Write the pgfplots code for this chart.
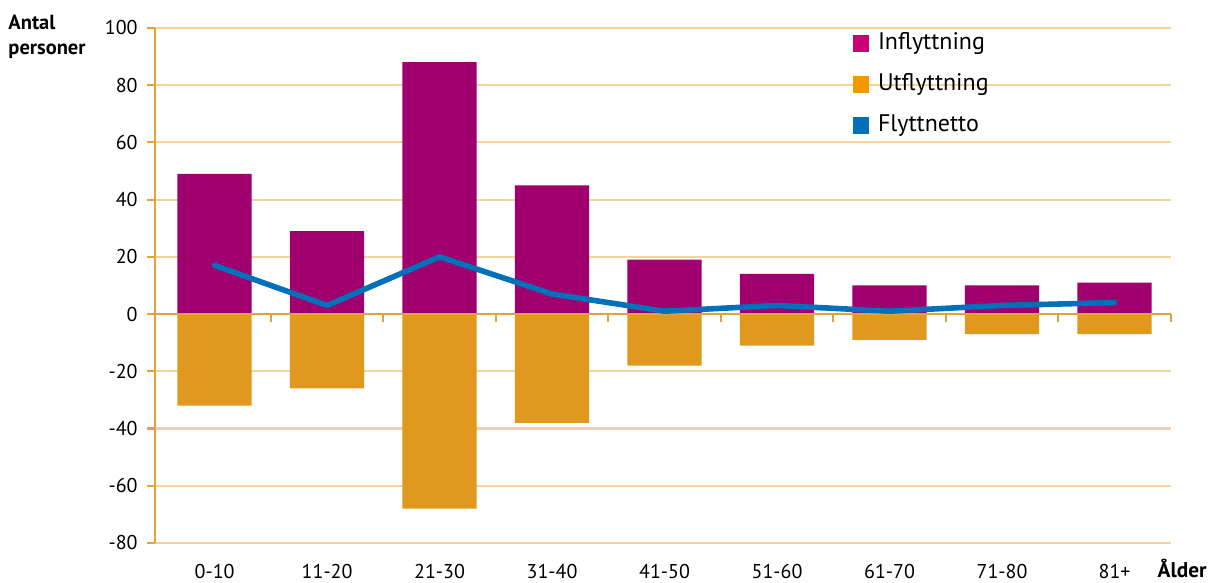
\documentclass[border=0pt]{standalone}
\usepackage{fontspec}
\setmainfont{PT Sans}
\usepackage{pgfplots}
\pgfplotsset{compat=1.18}
\definecolor{infl}{HTML}{A0006E}
\definecolor{infllg}{HTML}{CC0077}
\definecolor{utfl}{HTML}{E0981E}
\definecolor{utfllg}{HTML}{F39800}
\definecolor{netto}{HTML}{0070B8}
\definecolor{gridc}{HTML}{F2D49A}
\definecolor{axisc}{HTML}{E3A23A}

\begin{document}
\begin{tikzpicture}
\useasboundingbox (-2.046cm,-0.515cm) rectangle (13.954cm,7.168cm);
\begin{axis}[at={(0,0)},anchor=south west,scale only axis,
 width=13.41cm,height=6.80cm,
 xmin=-0.53,xmax=8.5,ymin=-80,ymax=100,
 ytick={-80,-60,...,100},
 xtick={0,...,8},
 xticklabels={0-10,11-20,21-30,31-40,41-50,51-60,61-70,71-80,81+},
 axis y line=left,axis x line=bottom,
 x axis line style={draw=none},y axis line style={axisc,line width=0.8pt,-},
 x tick style={draw=none},
 y tick style={axisc,line width=0.8pt},
 tick align=outside,major tick length=3pt,
 ymajorgrids,grid style={gridc,line width=0.8pt},
 tick label style={font=\fontsize{7.5}{9}\selectfont},
 /pgf/number format/assume math mode=true,
 xticklabel style={yshift=-1.5pt},
 legend style={at={(0.679,1.012)},anchor=north west,draw=none,fill=none,
  font=\fontsize{9}{11}\selectfont,row sep=3.5pt,column sep=1.5pt},
 legend cell align=left,
 clip=false]
\addlegendimage{only marks,mark=square*,mark size=2.9pt,infllg}
\addlegendentry{Inflyttning}
\addlegendimage{only marks,mark=square*,mark size=2.9pt,utfllg}
\addlegendentry{Utflyttning}
\addlegendimage{only marks,mark=square*,mark size=2.9pt,netto}
\addlegendentry{Flyttnetto}
\addplot[ybar,bar width=0.66,bar shift=0pt,fill=infl,draw=none,forget plot] coordinates {
 (0,49) (1,29) (2,88) (3,45) (4,19) (5,14) (6,10) (7,10) (8,11)};
\addplot[ybar,bar width=0.66,bar shift=0pt,fill=utfl,draw=none,forget plot] coordinates {
 (0,-32) (1,-26) (2,-68) (3,-38) (4,-18) (5,-11) (6,-9) (7,-7) (8,-7)};
\draw[axisc,line width=0.8pt] (axis cs:-0.53,0) -- (axis cs:8.5,0);
\pgfplotsinvokeforeach{0.5,1.5,2.5,3.5,4.5,5.5,6.5,7.5,8.5}{
 \draw[axisc,line width=0.8pt] (axis cs:#1,0) -- ++(0pt,-3pt);}
\addplot[netto,line width=2.1pt,line cap=round,line join=round,mark=none,forget plot] coordinates {
 (0,17) (1,3) (2,20) (3,7) (4,1) (5,3) (6,1) (7,3) (8,4)};
\end{axis}
\node[anchor=north west,align=left,font=\fontsize{7.7}{9.6}\selectfont\bfseries,inner sep=0pt]
 at (-1.941cm,6.983cm) {Antal\\personer};
\node[anchor=base west,font=\fontsize{8}{10}\selectfont\bfseries,inner sep=0pt]
 at (13.23cm,-0.46cm) {Ålder};
\end{tikzpicture}
\end{document}
